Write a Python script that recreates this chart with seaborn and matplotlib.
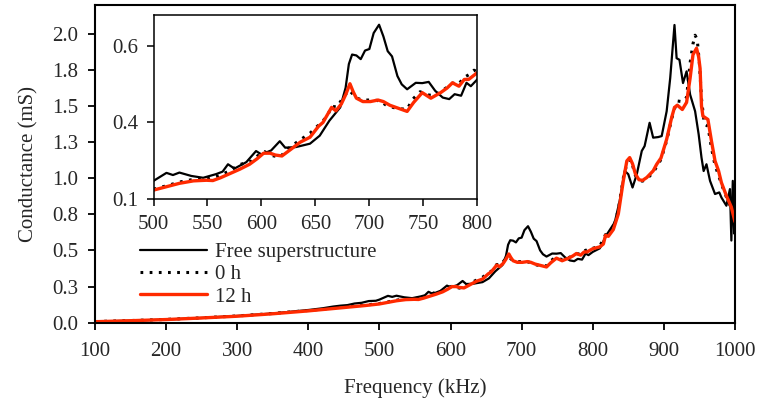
import numpy as np
import pandas as pd
import matplotlib
matplotlib.use("Agg")
import matplotlib.pyplot as plt
import seaborn as sns

# ---------------- data ----------------
freq_free = [100, 150, 200, 250, 300, 350, 400, 420, 435, 445, 455, 465, 475, 485, 495,
             500, 512, 518, 524, 535, 546, 558, 564, 569, 575, 586, 595, 600, 609, 617,
             622, 632, 645, 654, 663, 673, 678, 681, 684, 688, 692, 696, 700, 704, 709,
             713, 717, 721, 726, 730, 735, 743, 749, 755, 761, 768, 774, 779, 785, 790,
             794, 800, 810, 820, 831, 838, 845, 850, 856, 862, 869, 873, 880, 885, 892,
             897, 904, 909, 915, 918, 922, 927, 932, 937, 944, 949, 953, 956, 960, 965,
             972, 978, 981, 988, 993, 995, 997, 999, 1000]
cond_free = [0.008, 0.014, 0.022, 0.033, 0.047, 0.064, 0.088, 0.100, 0.112, 0.118, 0.122,
             0.133, 0.138, 0.150, 0.152, 0.160, 0.186, 0.179, 0.187, 0.176, 0.170, 0.182,
             0.190, 0.214, 0.200, 0.221, 0.257, 0.246, 0.259, 0.289, 0.268, 0.270, 0.281,
             0.307, 0.356, 0.399, 0.463, 0.540, 0.571, 0.568, 0.556, 0.584, 0.589, 0.641,
             0.668, 0.630, 0.582, 0.565, 0.501, 0.474, 0.458, 0.479, 0.478, 0.482, 0.453,
             0.431, 0.426, 0.442, 0.437, 0.479, 0.468, 0.490, 0.515, 0.612, 0.695, 0.845,
             1.051, 1.028, 0.936, 1.028, 1.189, 1.223, 1.384, 1.281, 1.285, 1.292, 1.464,
             1.694, 2.061, 1.831, 1.820, 1.659, 1.740, 1.579, 1.464, 1.304, 1.143, 1.050,
             1.097, 0.982, 0.891, 0.902, 0.867, 0.810, 0.925, 0.569, 0.982, 0.617, 0.740]

freq_0h = [100, 150, 200, 250, 300, 350, 400, 450, 480, 500, 512, 524, 537, 549, 560,
           569, 580, 591, 597, 603, 609, 617, 625, 634, 645, 654, 661, 665, 670, 676,
           681, 684, 688, 693, 704, 710, 716, 726, 735, 740, 747, 754, 760, 769, 777,
           783, 787, 792, 797, 800, 810, 818, 822, 829, 836, 843, 848, 852, 856, 860,
           865, 870, 876, 885, 890, 896, 904, 911, 915, 919, 926, 932, 937, 941, 944,
           947, 950, 953, 957, 962, 967, 972, 977, 981, 988, 995, 1000]
cond_0h = [0.008, 0.015, 0.023, 0.034, 0.047, 0.064, 0.085, 0.108, 0.122, 0.133, 0.144,
           0.156, 0.165, 0.166, 0.176, 0.190, 0.213, 0.225, 0.243, 0.255, 0.243, 0.237,
           0.265, 0.289, 0.315, 0.345, 0.370, 0.403, 0.400, 0.433, 0.455, 0.445, 0.430,
           0.423, 0.423, 0.420, 0.405, 0.395, 0.393, 0.425, 0.450, 0.440, 0.437, 0.457,
           0.478, 0.475, 0.495, 0.505, 0.520, 0.515, 0.530, 0.610, 0.605, 0.655, 0.780,
           1.000, 1.100, 1.130, 1.090, 1.020, 0.985, 0.980, 0.995, 1.040, 1.080, 1.130,
           1.260, 1.410, 1.480, 1.535, 1.530, 1.560, 1.800, 1.930, 1.990, 1.960, 1.800,
           1.550, 1.375, 1.360, 1.210, 1.090, 1.020, 0.960, 0.870, 0.790, 0.700]

freq_12h = [100, 150, 200, 250, 300, 350, 400, 450, 480, 500, 512, 524, 537, 549, 555,
            562, 571, 580, 589, 596, 602, 608, 613, 619, 627, 636, 645, 653, 657, 665,
            669, 674, 678, 682, 685, 688, 694, 701, 708, 713, 719, 727, 735, 741, 749,
            757, 766, 772, 777, 783, 788, 792, 800, 810, 815, 818, 822, 829, 836, 843,
            848, 852, 856, 860, 865, 870, 876, 885, 890, 896, 904, 911, 915, 919, 926,
            932, 937, 941, 946, 949, 951, 953, 955, 962, 967, 972, 977, 981, 988, 995, 1000]
cond_12h = [0.007, 0.014, 0.022, 0.033, 0.045, 0.062, 0.082, 0.105, 0.119, 0.130, 0.141,
            0.152, 0.160, 0.162, 0.161, 0.170, 0.184, 0.198, 0.214, 0.232, 0.250, 0.250,
            0.244, 0.241, 0.262, 0.286, 0.302, 0.338, 0.350, 0.399, 0.388, 0.410, 0.440,
            0.476, 0.450, 0.429, 0.418, 0.418, 0.423, 0.418, 0.406, 0.396, 0.386, 0.415,
            0.447, 0.429, 0.447, 0.462, 0.479, 0.468, 0.490, 0.490, 0.512, 0.525, 0.545,
            0.605, 0.598, 0.645, 0.753, 0.982, 1.120, 1.143, 1.100, 1.030, 0.990, 0.985,
            1.005, 1.051, 1.097, 1.140, 1.270, 1.420, 1.490, 1.506, 1.476, 1.525, 1.694,
            1.855, 1.900, 1.840, 1.760, 1.500, 1.430, 1.407, 1.258, 1.120, 1.051, 0.970,
            0.879, 0.800, 0.700]

series_labels = ["Free superstructure", "0 h", "12 h"]

main_xticks = [100, 200, 300, 400, 500, 600, 700, 800, 900, 1000]
main_yticks = [0.0, 0.25, 0.5, 0.75, 1.0, 1.25, 1.5, 1.75, 2.0]
main_yticklabels = ["0.0", "0.3", "0.5", "0.8", "1.0", "1.3", "1.5", "1.8", "2.0"]
inset_xticks = [500, 550, 600, 650, 700, 750, 800]
inset_yticks = [0.1, 0.35, 0.6]
inset_yticklabels = ["0.1", "0.4", "0.6"]

# ---------------- style ----------------
sns.set_theme(style="ticks")
plt.rcParams["font.family"] = ["Liberation Serif", "DejaVu Serif"]
plt.rcParams["mathtext.fontset"] = "stix"

FS = 15
RED = "#ff2a00"

df_free = pd.DataFrame({"f": freq_free, "g": cond_free})
df_0h = pd.DataFrame({"f": freq_0h, "g": cond_0h})
df_12h = pd.DataFrame({"f": freq_12h, "g": cond_12h})

fig = plt.figure(figsize=(7.6, 4.08), dpi=100)
ax = fig.add_axes([0.125, 0.209, 0.842, 0.779])


def draw(a, lw_scale=1.0, legend=False):
    sns.lineplot(data=df_free, x="f", y="g", ax=a, color="black",
                 linewidth=1.6 * lw_scale, label=series_labels[0] if legend else None,
                 estimator=None)
    sns.lineplot(data=df_0h, x="f", y="g", ax=a, color="black",
                 linewidth=2.2 * lw_scale, dashes=False, label=series_labels[1] if legend else None,
                 estimator=None)
    a.lines[-1].set_linestyle((0, (0.9, 2.1)))
    sns.lineplot(data=df_12h, x="f", y="g", ax=a, color=RED,
                 linewidth=2.4 * lw_scale, label=series_labels[2] if legend else None,
                 estimator=None)


draw(ax, legend=True)
ax.set_xlim(100, 1000)
ax.set_ylim(0, 2.2)
ax.set_xticks(main_xticks)
ax.set_xticklabels([str(t) for t in main_xticks], fontsize=FS)
ax.set_yticks(main_yticks)
ax.set_yticklabels(main_yticklabels, fontsize=FS)
ax.set_xlabel("Frequency (kHz)", fontsize=FS, labelpad=12)
ax.set_ylabel("Conductance (mS)", fontsize=FS, labelpad=10)
ax.tick_params(direction="out", length=5, width=1.3, color="black", pad=9)
ax.tick_params(axis="y", pad=7)
for s in ax.spines.values():
    s.set_visible(True)
    s.set_linewidth(1.5)
    s.set_color("black")

leg = ax.legend(loc="upper left", bbox_to_anchor=(0.184, 0.405),
                bbox_transform=fig.transFigure, frameon=False, fontsize=FS,
                handlelength=3.2, handletextpad=0.4, labelspacing=0.12,
                borderpad=0, borderaxespad=0)

# ---------------- inset ----------------
ins = fig.add_axes([0.202, 0.5115, 0.426, 0.452])
ins.set_facecolor("white")
draw(ins, lw_scale=1.0)
ins.set_xlim(500, 800)
ins.set_ylim(0.1, 0.7)
ins.set_xticks(inset_xticks)
ins.set_xticklabels([str(t) for t in inset_xticks], fontsize=FS)
ins.set_yticks(inset_yticks)
ins.set_yticklabels(inset_yticklabels, fontsize=FS)
ins.set_xlabel("")
ins.set_ylabel("")
ins.tick_params(direction="out", length=5, width=1.1, color="black", pad=6)
for s in ins.spines.values():
    s.set_visible(True)
    s.set_linewidth(1.1)
    s.set_color("black")

fig.savefig("out.png", dpi=100)
